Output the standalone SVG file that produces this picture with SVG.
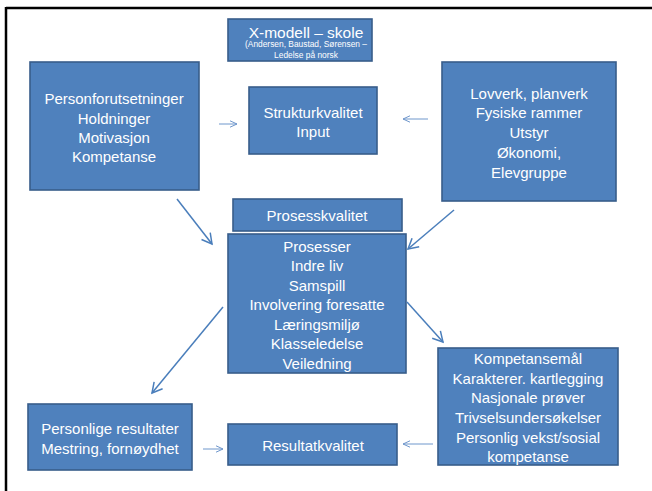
<svg xmlns="http://www.w3.org/2000/svg" width="652" height="491" viewBox="0 0 652 491">
  <defs>
    <marker id="big" markerUnits="userSpaceOnUse" markerWidth="14" markerHeight="14" refX="11" refY="7" orient="auto">
      <path d="M1,1.5 L11,7 L1,12.5" fill="none" stroke="#4A7EBB" stroke-width="1.5"/>
    </marker>
    <marker id="small" markerUnits="userSpaceOnUse" markerWidth="10" markerHeight="10" refX="8" refY="5" orient="auto">
      <path d="M1,1.8 L8,5 L1,8.2" fill="none" stroke="#6F97CC" stroke-width="1"/>
    </marker>
  </defs>
  <style>
    .box { fill: #4F81BD; stroke: #385D8A; stroke-width: 1.6; }
    .t { font-family: "Liberation Sans", Arial, sans-serif; fill: #FFFFFF; font-size: 15px; text-anchor: middle; dominant-baseline: central; }
    .big { stroke: #4A7EBB; stroke-width: 1.5; fill: none; marker-end: url(#big); }
    .small { stroke: #6F97CC; stroke-width: 1; fill: none; marker-end: url(#small); }
  </style>
  <rect x="0" y="0" width="652" height="491" fill="#FFFFFF"/>
  <g id="frame">
    <line x1="6" y1="8" x2="652" y2="8" stroke="#000" stroke-width="2.5"/>
    <line x1="6" y1="7" x2="6" y2="491" stroke="#000" stroke-width="2.5"/>
  </g>
  <g id="title">
    <rect class="box" x="228" y="19" width="144" height="42"/>
    <text class="t" x="306" y="32" style="font-size:15.5px">X-modell – skole</text>
    <text class="t" x="306" y="44" style="font-size:8.4px">(Andersen, Baustad, Sørensen –</text>
    <text class="t" x="306" y="55" style="font-size:8.4px">Ledelse på norsk</text>
  </g>
  <g id="person">
    <rect class="box" x="30" y="62" width="169" height="128"/>
    <text class="t" x="114" y="98">Personforutsetninger</text>
    <text class="t" x="114" y="118">Holdninger</text>
    <text class="t" x="114" y="137">Motivasjon</text>
    <text class="t" x="114" y="156">Kompetanse</text>
  </g>
  <g id="struktur">
    <rect class="box" x="249" y="87" width="128" height="67"/>
    <text class="t" x="313" y="112">Strukturkvalitet</text>
    <text class="t" x="313" y="131">Input</text>
  </g>
  <g id="lovverk">
    <rect class="box" x="442" y="62" width="174" height="139"/>
    <text class="t" x="529" y="93">Lovverk, planverk</text>
    <text class="t" x="529" y="112">Fysiske rammer</text>
    <text class="t" x="529" y="132">Utstyr</text>
    <text class="t" x="529" y="152">Økonomi,</text>
    <text class="t" x="529" y="172">Elevgruppe</text>
  </g>
  <g id="prosesskvalitet">
    <rect class="box" x="233" y="199" width="169" height="32"/>
    <text class="t" x="317" y="215">Prosesskvalitet</text>
  </g>
  <g id="prosesser">
    <rect class="box" x="228" y="234" width="178" height="139"/>
    <text class="t" x="317" y="246">Prosesser</text>
    <text class="t" x="317" y="265">Indre liv</text>
    <text class="t" x="317" y="285">Samspill</text>
    <text class="t" x="317" y="304">Involvering foresatte</text>
    <text class="t" x="317" y="324">Læringsmiljø</text>
    <text class="t" x="317" y="343">Klasseledelse</text>
    <text class="t" x="317" y="363">Veiledning</text>
  </g>
  <g id="personlige">
    <rect class="box" x="28" y="404" width="164" height="66"/>
    <text class="t" x="110" y="428">Personlige resultater</text>
    <text class="t" x="110" y="448">Mestring, fornøydhet</text>
  </g>
  <g id="resultat">
    <rect class="box" x="228" y="424" width="169" height="41"/>
    <text class="t" x="313" y="445">Resultatkvalitet</text>
  </g>
  <g id="kompetanse">
    <rect class="box" x="438" y="348" width="180" height="117"/>
    <text class="t" x="528" y="358">Kompetansemål</text>
    <text class="t" x="528" y="378">Karakterer. kartlegging</text>
    <text class="t" x="528" y="397">Nasjonale prøver</text>
    <text class="t" x="528" y="417">Trivselsundersøkelser</text>
    <text class="t" x="528" y="437">Personlig vekst/sosial</text>
    <text class="t" x="528" y="456">kompetanse</text>
  </g>
  <g id="connectors">
    <line class="small" x1="219" y1="124" x2="237" y2="124"/>
    <line class="small" x1="428" y1="119" x2="403" y2="119"/>
    <line class="big" x1="177" y1="199" x2="212" y2="244"/>
    <line class="big" x1="454" y1="210" x2="408" y2="249"/>
    <line class="big" x1="407" y1="302" x2="443" y2="342"/>
    <line class="big" x1="223" y1="307" x2="152" y2="393"/>
    <line class="small" x1="203" y1="449" x2="223" y2="449"/>
    <line class="small" x1="433" y1="444" x2="403" y2="444"/>
  </g>
</svg>
